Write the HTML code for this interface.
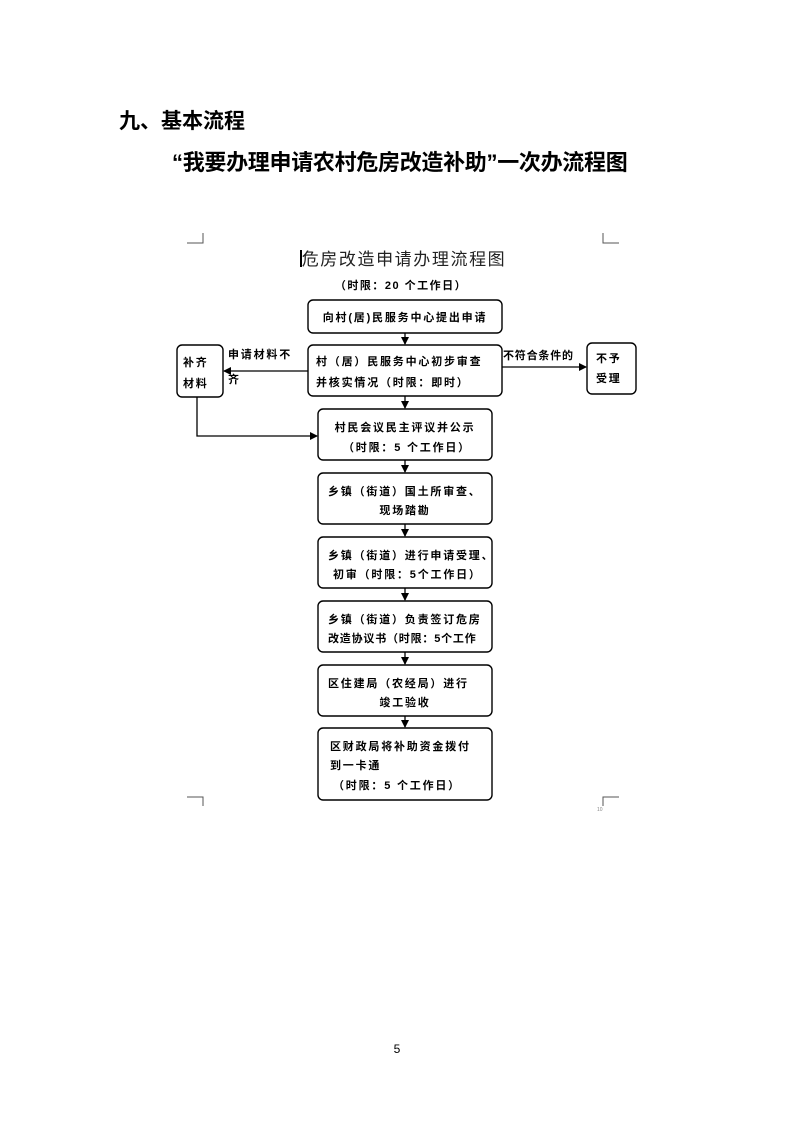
<!DOCTYPE html>
<html><head><meta charset="utf-8"><style>
html,body{margin:0;padding:0;background:#fff}
body{width:793px;height:1122px;position:relative;overflow:hidden;font-family:"Liberation Sans","Noto Sans CJK SC",sans-serif}
.h{position:absolute;font-weight:bold;white-space:nowrap;color:#000}
</style></head><body>
<div class="h" style="left:119px;top:105px;font-size:21px;">九、基本流程</div>
<div class="h" style="left:172px;top:145px;font-size:22px;letter-spacing:-0.3px">“我要办理申请农村危房改造补助”一次办流程图</div>
<svg width="793" height="1122" style="position:absolute;left:0;top:0" font-family="Liberation Sans, Noto Sans CJK SC, sans-serif">
<defs><marker id="a" markerWidth="8" markerHeight="8" refX="7" refY="4" orient="auto" markerUnits="userSpaceOnUse"><path d="M0,0 L8,4 L0,8 z" fill="#000"/></marker></defs>
<g stroke="#555" stroke-width="1" fill="none">
<path d="M187,243 H203 V233"/><path d="M603,233 V243 H619"/>
<path d="M187,797 H203 V806"/><path d="M603,806 V797 H619"/>
</g>
<line x1="301" y1="250" x2="301" y2="267" stroke="#000" stroke-width="2"/>
<text x="404" y="265" font-size="17" text-anchor="middle" fill="#222" letter-spacing="1.6">危房改造申请办理流程图</text>
<text x="401" y="289" font-size="11" font-weight="bold" text-anchor="middle" letter-spacing="1.5">（时限：20 个工作日）</text>
<g stroke="#000" stroke-width="1.4" fill="#fff">
<rect x="308" y="300" width="194" height="33" rx="5"/>
<rect x="308" y="345" width="194" height="51" rx="5"/>
<rect x="177" y="345" width="46" height="52" rx="5"/>
<rect x="587" y="343" width="49" height="51" rx="5"/>
<rect x="318" y="409" width="174" height="51" rx="5"/>
<rect x="318" y="473" width="174" height="51" rx="5"/>
<rect x="318" y="537" width="174" height="51" rx="5"/>
<rect x="318" y="601" width="174" height="51" rx="5"/>
<rect x="318" y="665" width="174" height="51" rx="5"/>
<rect x="318" y="728" width="174" height="72" rx="5"/>
</g>
<g stroke="#000" stroke-width="1.3" marker-end="url(#a)">
<line x1="405" y1="333" x2="405" y2="344"/>
<line x1="405" y1="396" x2="405" y2="408"/>
<line x1="405" y1="460" x2="405" y2="472"/>
<line x1="405" y1="524" x2="405" y2="536"/>
<line x1="405" y1="588" x2="405" y2="600"/>
<line x1="405" y1="652" x2="405" y2="664"/>
<line x1="405" y1="716" x2="405" y2="727"/>
<line x1="308" y1="371" x2="224" y2="371"/>
<line x1="502" y1="367" x2="586" y2="367"/>
<polyline points="197,397 197,436 317,436" fill="none"/>
</g>
<g font-size="11" font-weight="bold" fill="#000" letter-spacing="1.8">
<text x="405" y="321" text-anchor="middle">向村(居)民服务中心提出申请</text>
<text x="316" y="365">村（居）民服务中心初步审查</text>
<text x="316" y="386">并核实情况（时限：即时）</text>
<text x="183" y="366">补齐</text>
<text x="183" y="387">材料</text>
<text x="228" y="358">申请材料不</text>
<text x="228" y="383">齐</text>
<text x="503" y="359" letter-spacing="0.8">不符合条件的</text>
<text x="596" y="362">不予</text>
<text x="596" y="382">受理</text>
<text x="405" y="431" text-anchor="middle">村民会议民主评议并公示</text>
<text x="407" y="451" text-anchor="middle">（时限：5 个工作日）</text>
<text x="328" y="495">乡镇（街道）国土所审查、</text>
<text x="405" y="514" text-anchor="middle">现场踏勘</text>
<text x="328" y="559">乡镇（街道）进行申请受理、</text>
<text x="333" y="578">初审（时限：5个工作日）</text>
<text x="328" y="623">乡镇（街道）负责签订危房</text>
<text x="328" y="642" letter-spacing="0.8">改造协议书（时限：5个工作</text>
<text x="328" y="687">区住建局（农经局）进行</text>
<text x="405" y="706" text-anchor="middle">竣工验收</text>
<text x="330" y="750">区财政局将补助资金拨付</text>
<text x="330" y="769">到一卡通</text>
<text x="333" y="789">（时限：5 个工作日）</text>
</g>
<text x="597" y="811" font-size="5" fill="#888">10</text>
<text x="397" y="1053" font-size="12" text-anchor="middle">5</text>
</svg>
</body></html>
